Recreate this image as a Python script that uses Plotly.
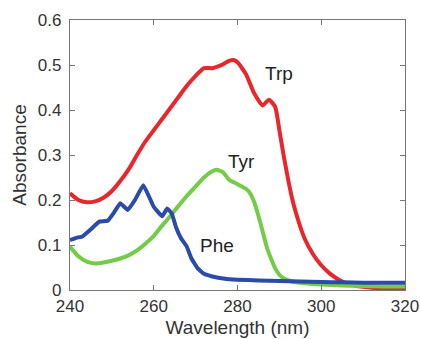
import plotly.graph_objects as go

# Trp (red)
trp_nm = [240, 242, 244, 246, 248, 250, 252, 254, 256, 258, 260, 262, 264, 266, 268, 270, 272, 274, 276, 278, 279, 280, 282, 284, 286, 287.5, 289, 290, 291, 292, 293, 294, 296, 298, 300, 302, 304, 306, 308, 310, 312, 316, 320]
trp_abs = [0.215, 0.200, 0.195, 0.197, 0.205, 0.220, 0.242, 0.268, 0.300, 0.330, 0.355, 0.380, 0.405, 0.430, 0.455, 0.476, 0.493, 0.493, 0.499, 0.509, 0.511, 0.506, 0.480, 0.437, 0.410, 0.423, 0.407, 0.355, 0.300, 0.250, 0.205, 0.170, 0.115, 0.080, 0.055, 0.037, 0.024, 0.015, 0.010, 0.007, 0.005, 0.004, 0.004]

# Tyr (green)
tyr_nm = [240, 242, 244, 246, 248, 250, 252, 254, 256, 258, 260, 262, 264, 266, 268, 270, 272, 274, 275, 276.5, 278, 280, 282, 283, 284, 285, 286, 287, 288, 289, 290, 291, 293, 296, 300, 305, 310, 315, 320]
tyr_abs = [0.096, 0.075, 0.063, 0.059, 0.061, 0.065, 0.070, 0.077, 0.088, 0.103, 0.120, 0.143, 0.165, 0.188, 0.210, 0.230, 0.250, 0.264, 0.267, 0.262, 0.245, 0.235, 0.225, 0.215, 0.195, 0.165, 0.130, 0.095, 0.070, 0.048, 0.034, 0.026, 0.019, 0.015, 0.012, 0.010, 0.009, 0.008, 0.008]

# Phe (blue)
phe_nm = [240, 241.5, 243, 245, 247, 249, 250.5, 252, 253.8, 255.5, 257.5, 259, 260, 262, 263.2, 264.3, 265.3, 266.5, 267.8, 269, 270.5, 272, 274, 277, 280, 285, 290, 295, 300, 305, 310, 315, 320]
phe_abs = [0.111, 0.116, 0.119, 0.135, 0.152, 0.154, 0.172, 0.193, 0.178, 0.200, 0.233, 0.205, 0.185, 0.164, 0.181, 0.170, 0.140, 0.115, 0.098, 0.070, 0.048, 0.036, 0.030, 0.025, 0.023, 0.021, 0.020, 0.019, 0.018, 0.017, 0.016, 0.016, 0.016]

x_ticks = [240, 260, 280, 300, 320]
y_ticks = [0, 0.1, 0.2, 0.3, 0.4, 0.5, 0.6]
y_tick_text = ["0", "0.1", "0.2", "0.3", "0.4", "0.5", "0.6"]

labels = ["Trp", "Tyr", "Phe"]
label_x = [290, 281, 275]
label_y = [0.482, 0.285, 0.100]

fig = go.Figure()
fig.add_trace(go.Scatter(x=trp_nm, y=trp_abs, mode="lines", line=dict(color="#E8262B", width=4, shape="spline", smoothing=0.5)))
fig.add_trace(go.Scatter(x=tyr_nm, y=tyr_abs, mode="lines", line=dict(color="#72CC45", width=4, shape="spline", smoothing=0.5)))
fig.add_trace(go.Scatter(x=phe_nm, y=phe_abs, mode="lines", line=dict(color="#2A4BA8", width=4, shape="spline", smoothing=0.3)))

for t, x, y in zip(labels, label_x, label_y):
    fig.add_annotation(x=x, y=y, text=t, showarrow=False, xanchor="center", yanchor="middle",
                       font=dict(family="Liberation Sans, Arial", size=19, color="#222222"))

axis_common = dict(showgrid=False, zeroline=False, showline=True, linecolor="#777777", linewidth=1.2,
                   mirror="ticks", ticks="inside", ticklen=5, tickcolor="#777777", automargin=False,
                   tickfont=dict(family="Liberation Sans, Arial", size=17, color="#333333"))

fig.update_layout(
    width=421, height=339,
    margin=dict(l=70, r=16, t=20, b=49),
    paper_bgcolor="white", plot_bgcolor="white",
    showlegend=False,
    font=dict(family="Liberation Sans, Arial", color="#333333"),
    xaxis=dict(range=[240, 320], tickvals=x_ticks, title=dict(text="Wavelength (nm)", font=dict(size=19, color="#333333"), standoff=6), **axis_common),
    yaxis=dict(range=[0, 0.6], tickvals=y_ticks, ticktext=y_tick_text, ticklabelstandoff=4,
               title=dict(text="Absorbance", font=dict(size=19, color="#333333"), standoff=6), **axis_common),
)

fig.write_html("out.html", config={"displayModeBar": False},
               post_script="document.body.style.margin='0';document.body.style.overflow='hidden';")
